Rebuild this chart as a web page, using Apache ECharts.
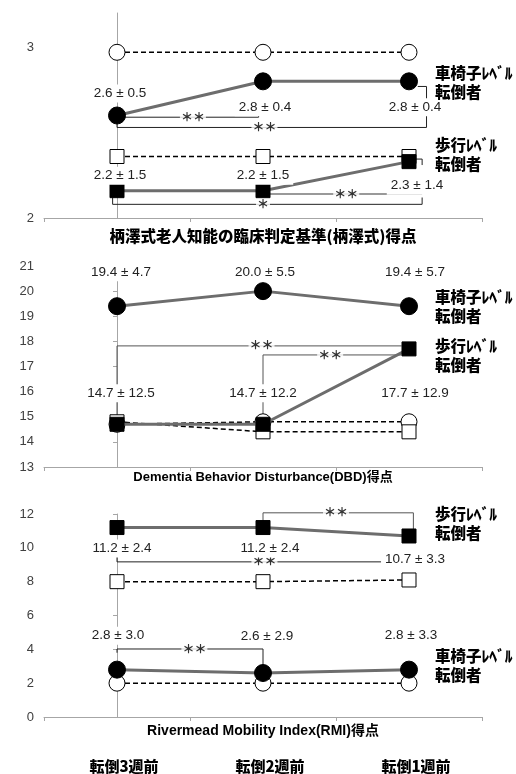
<!DOCTYPE html>
<html>
<head>
<meta charset="utf-8">
<script src="https://cdn.jsdelivr.net/npm/echarts@6/dist/echarts.min.js"></script>
<style>
  html, body { margin: 0; padding: 0; background: #fff; }
  #chart { width: 516px; height: 774px; }
</style>
</head>
<body>
<div id="chart"></div>
<script>
// 横軸
const categories = ['転倒3週前', '転倒2週前', '転倒1週前']

// 柄澤式
const kWheelFall = [2.6, 2.8, 2.8]
const kWheelFallSD = [0.5, 0.4, 0.4]
const kWheelNon = [2.97, 2.97, 2.97]
const kWalkFall = [2.16, 2.16, 2.33]
const kWalkFallSD = [1.5, 1.5, 1.4]
const kWalkNon = [2.36, 2.36, 2.36]

// DBD
const dWheelFall = [19.4, 20.0, 19.4]
const dWheelFallSD = [4.7, 5.5, 5.7]
const dWheelNon = [14.7, 14.8, 14.8]
const dWalkFall = [14.7, 14.7, 17.7]
const dWalkFallSD = [12.5, 12.2, 12.9]
const dWalkNon = [14.8, 14.4, 14.4]

// RMI
const rWalkFall = [11.2, 11.2, 10.7]
const rWalkFallSD = [2.4, 2.4, 3.3]
const rWalkNon = [8.0, 8.0, 8.1]
const rWheelFall = [2.8, 2.6, 2.8]
const rWheelFallSD = [3.0, 2.9, 3.3]
const rWheelNon = [2.0, 2.0, 2.0]

const panelTitles = [
  '柄澤式老人知能の臨床判定基準(柄澤式)得点',
  'Dementia Behavior Disturbance(DBD)得点',
  'Rivermead Mobility Index(RMI)得点',
]

// 有意差の括弧 (x: 横軸の位置 0..2, y: 値)
const brackets = [
  { p: 0, pts: [[0, 2.59], [0.97, 2.59], [0.97, 2.63]] },
  { p: 0, pts: [[0, 2.59], [0, 2.53], [2.12, 2.53], [2.12, 2.77], [2.06, 2.77]] },
  { p: 0, pts: [[1, 2.14], [2.09, 2.14]], color: '#777', width: 1.5 },
  { p: 0, pts: [[2.09, 2.31], [2.09, 2.345], [2.04, 2.345]] },
  { p: 0, pts: [[-0.03, 2.12], [-0.03, 2.08], [2.09, 2.08], [2.09, 2.12]] },
  { p: 1, pts: [[0, 14.7], [0, 17.82], [1.95, 17.82]], color: '#555' },
  { p: 1, pts: [[1, 14.7], [1, 17.46], [1.95, 17.46]], color: '#555' },
  { p: 2, pts: [[1, 11.2], [1, 12.07], [2.03, 12.07], [2.03, 10.7]], color: '#555' },
  { p: 2, pts: [[0, 9.8], [0, 9.17], [2.03, 9.17], [2.03, 9.6]] },
  { p: 2, pts: [[0, 3.8], [0, 4.02], [1, 4.02], [1, 2.6]] },
]
const stars = [
  { p: 0, at: [0.52, 2.59], text: '＊＊' },
  { p: 0, at: [1.01, 2.53], text: '＊＊' },
  { p: 0, at: [1.57, 2.14], text: '＊＊' },
  { p: 0, at: [1.0, 2.08], text: '＊' },
  { p: 1, at: [0.99, 17.82], text: '＊＊' },
  { p: 1, at: [1.46, 17.46], text: '＊＊' },
  { p: 2, at: [1.5, 12.07], text: '＊＊' },
  { p: 2, at: [1.01, 9.17], text: '＊＊' },
  { p: 2, at: [0.53, 4.02], text: '＊＊' },
]

const FONT_LAT = '"Liberation Sans", Arial, sans-serif'
const FONT_JP = '"Noto Sans CJK JP", sans-serif'
const AXIS_GRAY = '#a6a6a6'
const WHEEL_TEXT = '車椅子ﾚﾍﾞﾙ\n転倒者'
const WALK_TEXT = '歩行ﾚﾍﾞﾙ\n転倒者'

const grids = [
  { left: 44, width: 438, top: 13, height: 205, outerBoundsMode: 'none' },
  { left: 44, width: 438, top: 266, height: 201, outerBoundsMode: 'none' },
  { left: 44, width: 438, top: 514, height: 203, outerBoundsMode: 'none' },
]

const chart = echarts.init(document.getElementById('chart'), null, { renderer: 'canvas' })

// 転倒者 (実線・黒塗り)
function fallSeries(p, values, sds, symbol, size, offsets, endText, endOffset) {
  return {
    type: 'line',
    xAxisIndex: p,
    yAxisIndex: p,
    z: 3,
    symbol,
    symbolSize: size,
    itemStyle: { color: '#000', borderColor: '#000', borderWidth: 1 },
    lineStyle: { color: '#6d6d6d', width: 3 },
    data: values.map((v, i) => ({ value: v, label: { offset: offsets[i] } })),
    label: {
      show: true,
      position: 'inside',
      color: '#222',
      fontFamily: FONT_LAT,
      fontSize: 13.5,
      backgroundColor: '#fff',
      padding: [2, 4],
      formatter: (prm) => `${prm.value.toFixed(1)} ± ${sds[prm.dataIndex].toFixed(1)}`,
    },
    endLabel: {
      show: true,
      formatter: () => endText,
      distance: 0,
      offset: endOffset,
      color: '#000',
      fontFamily: FONT_JP,
      fontWeight: 900,
      fontSize: 15.5,
      lineHeight: 19,
    },
  }
}

// 非転倒者 (破線・白抜き)
function nonSeries(p, values, symbol, size) {
  return {
    type: 'line',
    xAxisIndex: p,
    yAxisIndex: p,
    z: 2,
    symbol,
    symbolSize: size,
    itemStyle: { color: '#fff', borderColor: '#000', borderWidth: 1 },
    lineStyle: { color: '#000', width: 1.5, type: [5, 3] },
    data: values,
  }
}

const series = [
  nonSeries(0, kWheelNon, 'circle', 16),
  nonSeries(0, kWalkNon, 'rect', 14),
  fallSeries(0, kWheelFall, kWheelFallSD, 'circle', 17, [[3, -22], [2, 26], [6, 26]], WHEEL_TEXT, [26, 1]),
  fallSeries(0, kWalkFall, kWalkFallSD, 'rect', 14, [[3, -15], [0, -15], [8, 24]], WALK_TEXT, [26, -7]),

  nonSeries(1, dWheelNon, 'circle', 16),
  nonSeries(1, dWalkNon, 'rect', 14),
  fallSeries(1, dWheelFall, dWheelFallSD, 'circle', 17, [[4, -34], [2, -19], [6, -34]], WHEEL_TEXT, [26, 0]),
  fallSeries(1, dWalkFall, dWalkFallSD, 'rect', 14, [[4, -31], [0, -31], [6, 44]], WALK_TEXT, [26, 7]),

  nonSeries(2, rWalkNon, 'rect', 14),
  nonSeries(2, rWheelNon, 'circle', 16),
  fallSeries(2, rWalkFall, rWalkFallSD, 'rect', 14, [[5, 21], [7, 21], [6, 23]], WALK_TEXT, [26, -12]),
  fallSeries(2, rWheelFall, rWheelFallSD, 'circle', 17, [[1, -34], [4, -37], [2, -34]], WHEEL_TEXT, [26, -4]),
]

brackets.forEach((b) => {
  series.push({
    type: 'line',
    xAxisIndex: 3 + b.p,
    yAxisIndex: b.p,
    z: 1,
    silent: true,
    clip: false,
    symbol: 'none',
    lineStyle: { color: b.color || '#222', width: b.width || 1 },
    data: b.pts,
  })
})

stars.forEach((s) => {
  series.push({
    type: 'scatter',
    xAxisIndex: 3 + s.p,
    yAxisIndex: s.p,
    z: 2,
    silent: true,
    clip: false,
    symbolSize: 1,
    itemStyle: { color: 'rgba(0,0,0,0)' },
    label: {
      show: true,
      position: 'inside',
      formatter: () => s.text,
      color: '#000',
      fontFamily: FONT_JP,
      fontWeight: 900,
      fontSize: 12,
      backgroundColor: '#fff',
      padding: [0, 1],
    },
    data: [s.at],
  })
})

const yRanges = [
  { min: 2, max: 3.2, interval: 1, custom: [2, 3] },
  { min: 13, max: 21, interval: 1 },
  { min: 0, max: 12, interval: 2 },
]
const nameGaps = [10, 4, 7]
const titleSizes = [15.5, 13, 14]

const option = {
  animation: false,
  grid: grids,
  xAxis: [
    ...grids.map((g, i) => ({
      type: 'category',
      gridIndex: i,
      data: categories,
      boundaryGap: true,
      axisLine: { lineStyle: { color: AXIS_GRAY } },
      axisTick: { show: true, length: 4, lineStyle: { color: AXIS_GRAY } },
      axisLabel: {
        show: i === 2,
        margin: 42,
        color: '#000',
        fontFamily: FONT_JP,
        fontWeight: 900,
        fontSize: 15,
        padding: [0, 0, 0, 14],
      },
      name: panelTitles[i],
      nameLocation: 'middle',
      nameGap: nameGaps[i],
      nameMoveOverlap: false,
      nameTextStyle: {
        color: '#000',
        fontFamily: i === 0 ? FONT_JP : `"Liberation Sans", "Noto Sans CJK JP", sans-serif`,
        fontWeight: i === 0 ? 900 : 'bold',
        fontSize: titleSizes[i],
      },
    })),
    ...grids.map((g, i) => ({
      type: 'value',
      gridIndex: i,
      min: -0.5,
      max: 2.5,
      show: false,
    })),
  ],
  yAxis: yRanges.map((r, i) => ({
    type: 'value',
    gridIndex: i,
    min: r.min,
    max: r.max,
    interval: r.interval,
    axisLine: { show: true, lineStyle: { color: AXIS_GRAY } },
    axisTick: r.custom
      ? { show: true, length: 4, lineStyle: { color: AXIS_GRAY }, customValues: r.custom }
      : { show: true, length: 4, lineStyle: { color: AXIS_GRAY } },
    axisLabel: r.custom
      ? { color: '#404040', fontFamily: FONT_LAT, fontSize: 13, margin: 10, customValues: r.custom }
      : { color: '#404040', fontFamily: FONT_LAT, fontSize: 13, margin: 10 },
    splitLine: { show: false },
  })),
  series,
}

chart.setOption(option)
</script>
</body>
</html>
